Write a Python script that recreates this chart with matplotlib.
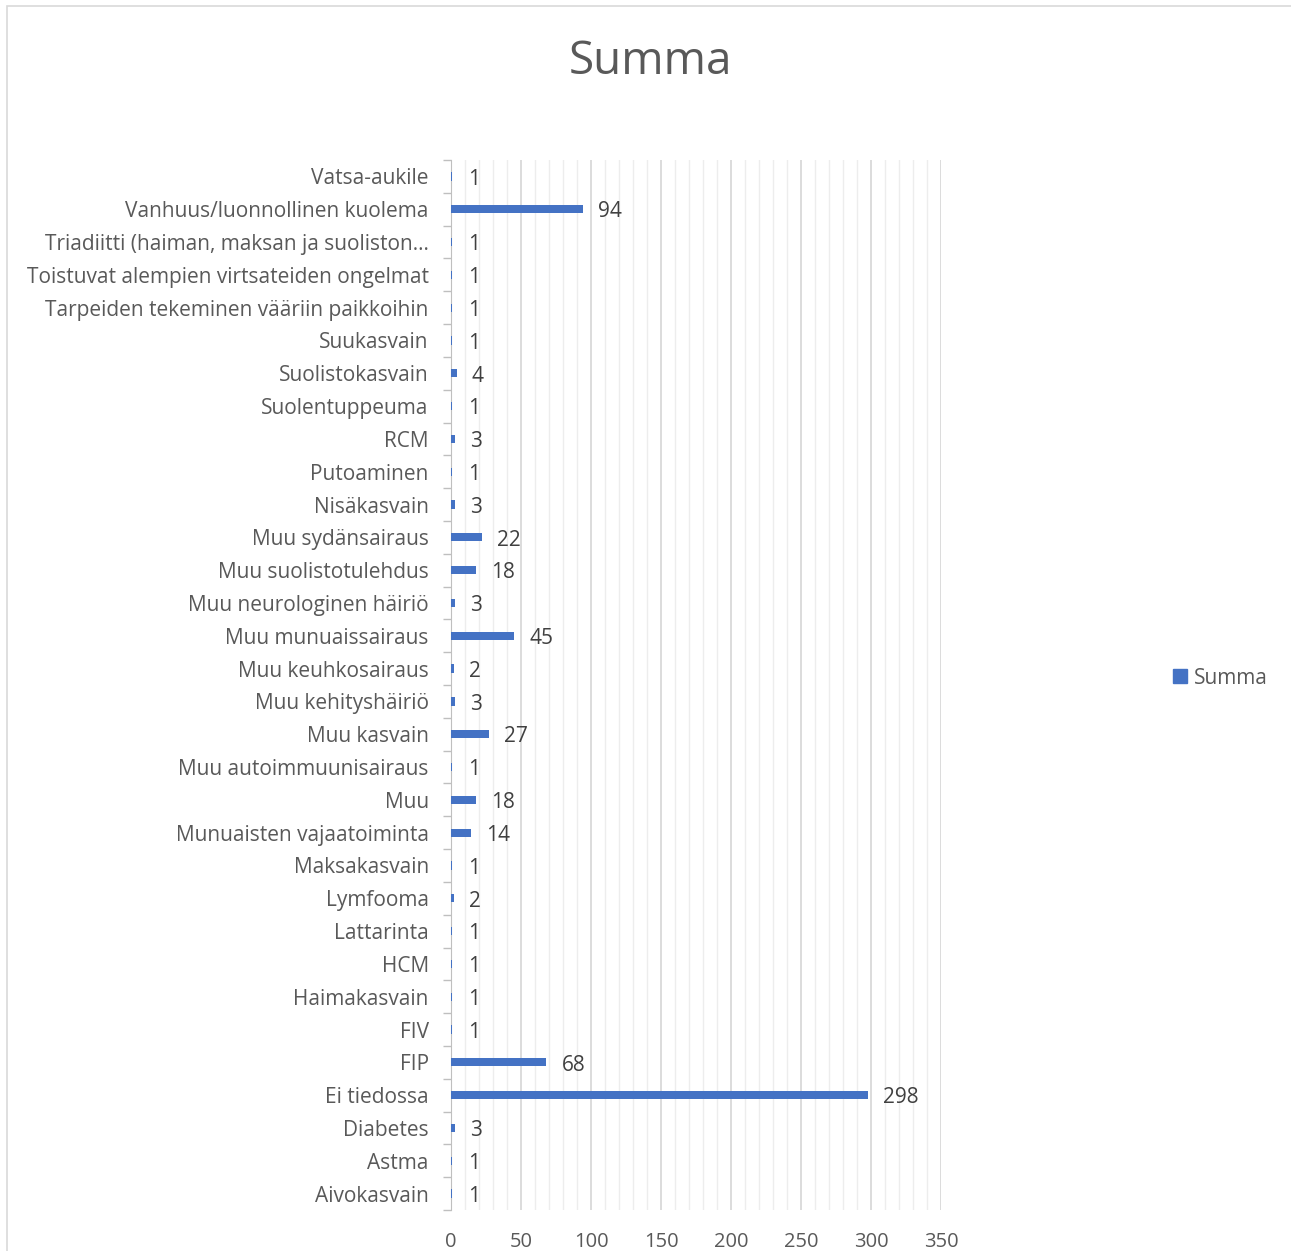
import numpy as np
import matplotlib.pyplot as plt
from matplotlib.patches import Rectangle
from matplotlib.lines import Line2D

plt.rcParams['font.family'] = ['Open Sans', 'DejaVu Sans']

# categories top to bottom as in the chart
categories = ['Vatsa-aukile', 'Vanhuus/luonnollinen kuolema',
              'Triadiitti (haiman, maksan ja suoliston…',
              'Toistuvat alempien virtsateiden ongelmat',
              'Tarpeiden tekeminen vääriin paikkoihin', 'Suukasvain',
              'Suolistokasvain', 'Suolentuppeuma', 'RCM', 'Putoaminen',
              'Nisäkasvain', 'Muu sydänsairaus', 'Muu suolistotulehdus',
              'Muu neurologinen häiriö', 'Muu munuaissairaus',
              'Muu keuhkosairaus', 'Muu kehityshäiriö', 'Muu kasvain',
              'Muu autoimmuunisairaus', 'Muu', 'Munuaisten vajaatoiminta',
              'Maksakasvain', 'Lymfooma', 'Lattarinta', 'HCM', 'Haimakasvain',
              'FIV', 'FIP', 'Ei tiedossa', 'Diabetes', 'Astma', 'Aivokasvain']
values = [1, 94, 1, 1, 1, 1, 4, 1, 3, 1, 3, 22, 18, 3, 45, 2, 3, 27, 1, 18,
          14, 1, 2, 1, 1, 1, 1, 68, 298, 3, 1, 1]
xticks = [0, 50, 100, 150, 200, 250, 300, 350]

blue = '#4472C4'
txt = '#595959'

fig = plt.figure(figsize=(12.91, 12.51), dpi=100)
fig.patches.append(Rectangle((7 / 1291, -0.1), 1.2, 1 - 6 / 1251 + 0.1,
                             transform=fig.transFigure, fill=False,
                             edgecolor='#D9D9D9', linewidth=1.2))
ax = fig.add_axes([451 / 1291, 1 - 1210 / 1251, 490 / 1291, 1050 / 1251])

cats = categories[::-1]
vals = values[::-1]
y = np.arange(len(cats))
ax.barh(y, vals, height=0.25, color=blue, zorder=3)
for yi, v in zip(y, vals):
    ax.annotate(str(v), (v, yi), xytext=(11, -2), textcoords='offset points',
                va='center', ha='left', fontsize=15, color='#404040')

ax.set_xlim(0, 350)
ax.set_ylim(-0.5, len(cats) - 0.5)
ax.set_xticks(xticks)
ax.set_xticks(np.arange(0, 351, 10), minor=True)
ax.set_yticks(y)
ax.set_yticklabels(cats)
ax.set_yticks(np.arange(-0.5, len(cats), 1), minor=True)
ax.grid(axis='x', which='major', color='#D9D9D9', linewidth=1.3, zorder=0)
ax.grid(axis='x', which='minor', color='#EDEDED', linewidth=1.0, zorder=0)
ax.tick_params(axis='x', which='both', length=0, pad=16, labelsize=14.5, labelcolor=txt)
ax.tick_params(axis='y', which='major', length=0, pad=16, labelsize=15, labelcolor=txt)
ax.tick_params(axis='y', which='minor', length=6, color='#BFBFBF', width=1)
for s in ['top', 'right', 'bottom']:
    ax.spines[s].set_visible(False)
ax.spines['left'].set_color('#BFBFBF')

fig.text(650 / 1291, 1 - 62 / 1251, 'Summa', ha='center', va='center',
         fontsize=33, color=txt)

handle = Line2D([], [], marker='s', linestyle='', color=blue, markersize=10)
fig.legend([handle], ['Summa'], loc='center left',
           bbox_to_anchor=(1140 / 1291, 1 - 678 / 1251), frameon=False,
           fontsize=15, labelcolor=txt, handletextpad=-0.3)

fig.savefig('out.png', dpi=100)
